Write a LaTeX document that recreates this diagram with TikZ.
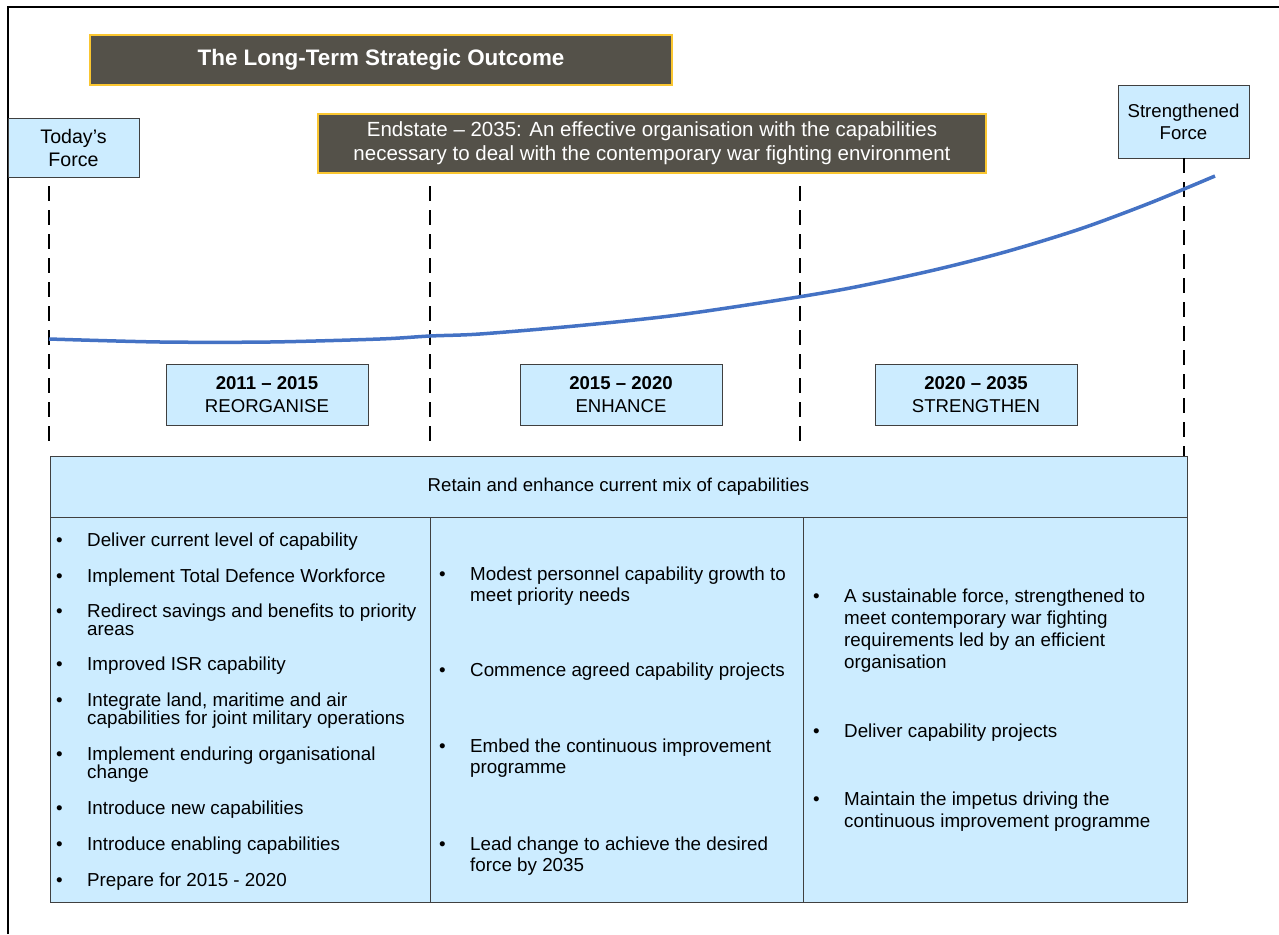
\documentclass[tikz,border=0pt]{standalone}
\usepackage{fontspec}
\setmainfont{Liberation Sans}
\usetikzlibrary{positioning}

\definecolor{slate}{RGB}{84,81,73}
\definecolor{gold}{RGB}{250,198,48}
\definecolor{skyfill}{RGB}{204,236,255}
\definecolor{edge}{RGB}{64,64,64}
\definecolor{trend}{RGB}{68,114,196}

\newcommand{\capitem}[1]{\makebox[31pt][l]{\textbullet}\parbox[t]{340pt}{\raggedright #1}}

\begin{document}
\begin{tikzpicture}[x=1pt, y=-1pt,
    outcome/.style = {draw=gold, line width=2pt, fill=slate, text=white, align=center, inner sep=0pt, outer sep=0pt},
    force/.style = {draw=edge, line width=1pt, fill=skyfill, align=center, inner sep=0pt, outer sep=0pt, font=\fontsize{18.6}{22.5}\selectfont},
    cell/.style = {draw=edge, line width=1pt, fill=skyfill, inner sep=0pt, outer sep=0pt, minimum height=385pt},
    item/.style = {anchor=base west, inner sep=0pt},
    milestone/.style = {line width=2pt, dash pattern=on 15pt off 9pt}]
    \useasboundingbox (0,0) rectangle (1279,934);
    \draw[line width=2pt] (7.5,934) -- (7.5,7.5) -- (1279,7.5);

    % headline boxes
    \node[outcome, minimum width=582pt, minimum height=50pt, font=\fontsize{22.4}{27}\bfseries] (title) at (381,60) {The Long-Term Strategic Outcome};
    \node[outcome, minimum width=668pt, minimum height=59pt, font=\fontsize{20.5}{24}\selectfont] (endstate) at (652,143)
        {Endstate -- 2035: An effective organisation with the capabilities\\necessary to deal with the contemporary war fighting environment};
    \node[force, minimum width=131pt, minimum height=59pt, font=\fontsize{19.6}{23}\selectfont] (today) at (73.5,147.5) {Today's\\Force};
    \node[force, minimum width=131pt, minimum height=73pt, font=\fontsize{18.6}{22}\selectfont] (strong) at (1183.5,121.5) {Strengthened\\Force};

    % time line
    \coordinate (m0a) at (49,186);
    \coordinate (m0b) at (49,447);
    \coordinate (m1a) at (430,186);
    \coordinate (m1b) at (430,447);
    \coordinate (m2a) at (800,186);
    \coordinate (m2b) at (800,447);
    \coordinate (m3b) at (1183.5,465);
    \draw[milestone] (m0a) -- (m0b);
    \draw[milestone] (m1a) -- (m1b);
    \draw[milestone] (m2a) -- (m2b);
    \draw[milestone] (strong.south) -- (m3b);

    \draw[trend, line width=3.5pt] plot[smooth, tension=0.5] coordinates {(49,339) (160,342) (270,342) (380,339) (430,336) (480,334) (575,326) (670,316) (760,303) (845,289) (930,271) (1005,252) (1080,229) (1150,203) (1215,176)};

    % periods
    \node[force, minimum width=202pt, minimum height=61pt] (p1) at (267,394.5) {\textbf{2011 -- 2015}\\REORGANISE};
    \node[force, minimum width=202pt, minimum height=61pt] (p2) at (621,394.5) {\textbf{2015 -- 2020}\\ENHANCE};
    \node[force, minimum width=202pt, minimum height=61pt] (p3) at (976,394.5) {\textbf{2020 -- 2035}\\STRENGTHEN};

    % capability table
    \node[force, minimum width=1137pt, minimum height=61pt] (mix) at (618.5,486.5) {Retain and enhance current mix of capabilities};
    \node[cell, minimum width=380pt] (c1) [below right=0pt and 0pt of mix.south west] {};
    \node[cell, minimum width=373pt] (c2) [right=0pt of c1] {};
    \node[cell, minimum width=384pt] (c3) [right=0pt of c2] {};

    \node[item, font=\fontsize{18.8}{18}\selectfont] (l1) at (56,546) {\capitem{Deliver current level of capability}};
    \node[item, font=\fontsize{18.8}{18}\selectfont] (l2) at (56,582) {\capitem{Implement Total Defence Workforce}};
    \node[item, font=\fontsize{18.8}{18}\selectfont] (l3) at (56,617) {\capitem{Redirect savings and benefits to priority\\areas}};
    \node[item, font=\fontsize{18.8}{18}\selectfont] (l4) at (56,670) {\capitem{Improved ISR capability}};
    \node[item, font=\fontsize{18.8}{18}\selectfont] (l5) at (56,706) {\capitem{Integrate land, maritime and air\\capabilities for joint military operations}};
    \node[item, font=\fontsize{18.8}{18}\selectfont] (l6) at (56,760) {\capitem{Implement enduring organisational\\change}};
    \node[item, font=\fontsize{18.8}{18}\selectfont] (l7) at (56,814) {\capitem{Introduce new capabilities}};
    \node[item, font=\fontsize{18.8}{18}\selectfont] (l8) at (56,850) {\capitem{Introduce enabling capabilities}};
    \node[item, font=\fontsize{18.8}{18}\selectfont] (l9) at (56,886) {\capitem{Prepare for 2015 - 2020}};

    \node[item, font=\fontsize{18.8}{21.5}\selectfont] (n1) at (439,580) {\capitem{Modest personnel capability growth to\\meet priority needs}};
    \node[item, font=\fontsize{18.8}{21.5}\selectfont] (n2) at (439,676) {\capitem{Commence agreed capability projects}};
    \node[item, font=\fontsize{18.8}{21.5}\selectfont] (n3) at (439,752) {\capitem{Embed the continuous improvement\\programme}};
    \node[item, font=\fontsize{18.8}{21.5}\selectfont] (n4) at (439,850) {\capitem{Lead change to achieve the desired\\force by 2035}};

    \node[item, font=\fontsize{18.8}{22}\selectfont] (r1) at (813,602) {\capitem{A sustainable force, strengthened to\\meet contemporary war fighting\\requirements led by an efficient\\organisation}};
    \node[item, font=\fontsize{18.8}{22}\selectfont] (r2) at (813,737) {\capitem{Deliver capability projects}};
    \node[item, font=\fontsize{18.8}{22}\selectfont] (r3) at (813,805) {\capitem{Maintain the impetus driving the\\continuous improvement programme}};
\end{tikzpicture}
\end{document}
